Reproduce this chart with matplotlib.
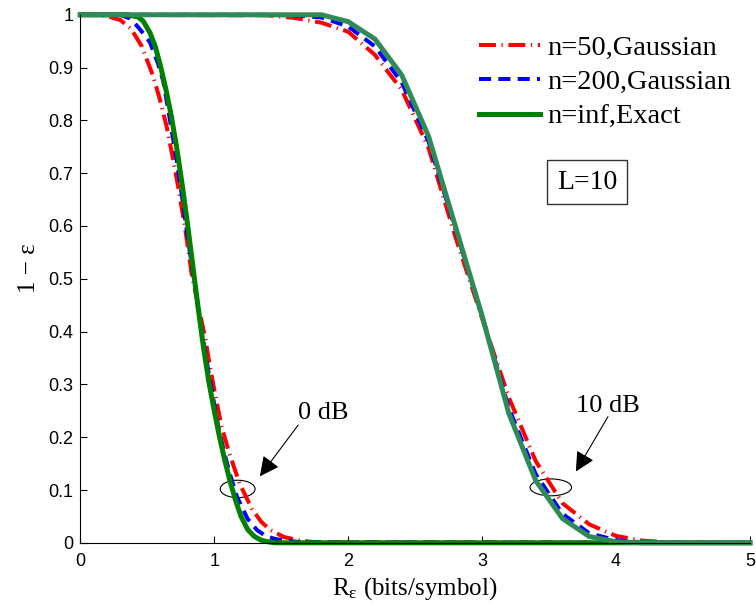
import matplotlib
matplotlib.use("Agg")
import matplotlib.pyplot as plt
from matplotlib.patches import Ellipse

plt.rcParams['mathtext.fontset'] = 'custom'
plt.rcParams['mathtext.rm'] = 'Liberation Serif'
plt.rcParams['mathtext.it'] = 'Liberation Serif:italic'

# ---- 0 dB curves ----
x0_n50 = [0, 0.15, 0.22, 0.3, 0.38, 0.46, 0.545, 0.595, 0.645, 0.694, 0.731, 0.781, 0.831, 0.88,
          0.931, 0.968, 1.01, 1.055, 1.112, 1.19, 1.28, 1.35, 1.42, 1.52, 1.63, 1.75, 5]
y0_n50 = [1, 1, 0.996, 0.99, 0.973, 0.94, 0.883, 0.839, 0.788, 0.725, 0.674, 0.599, 0.51, 0.45,
          0.39, 0.334, 0.277, 0.22, 0.17, 0.112, 0.065, 0.04, 0.024, 0.011, 0.005, 0.001, 0]

x0_n200 = [0, 0.3, 0.37, 0.42, 0.47, 0.52, 0.58, 0.62, 0.66, 0.72, 0.76, 0.81, 0.86, 0.91, 0.96,
           1.03, 1.07, 1.12, 1.17, 1.25, 1.32, 1.39, 1.46, 1.54, 1.65, 5]
y0_n200 = [1, 1, 0.993, 0.98, 0.965, 0.948, 0.908, 0.874, 0.815, 0.725, 0.655, 0.565, 0.48, 0.395,
           0.32, 0.22, 0.175, 0.128, 0.087, 0.045, 0.024, 0.012, 0.007, 0.004, 0.001, 0]

x0_exact = [0, 0.35, 0.43, 0.47, 0.52, 0.56, 0.60, 0.64, 0.68, 0.72, 0.76, 0.80, 0.84, 0.88, 0.92,
            0.96, 1.00, 1.04, 1.08, 1.12, 1.16, 1.20, 1.25, 1.30, 1.35, 1.40, 1.45, 5]
y0_exact = [1, 1, 0.996, 0.988, 0.966, 0.94, 0.902, 0.858, 0.808, 0.748, 0.68, 0.605, 0.525, 0.445,
            0.37, 0.305, 0.25, 0.2, 0.155, 0.115, 0.08, 0.05, 0.025, 0.012, 0.005, 0.002, 0, 0]

# ---- 10 dB curves ----
x10 = [0, 1.4, 1.6, 1.8, 2.0, 2.2, 2.4, 2.6, 2.8, 3.0, 3.2, 3.4, 3.6, 3.8, 4.0, 4.2, 4.4, 5]
y10_n50 = [1, 0.999, 0.994, 0.985, 0.968, 0.924, 0.858, 0.748, 0.58, 0.425, 0.275, 0.155, 0.075,
           0.035, 0.013, 0.004, 0.001, 0]
y10_n200 = [1, 1, 0.999, 0.995, 0.978, 0.94, 0.872, 0.76, 0.595, 0.43, 0.255, 0.13, 0.055,
            0.018, 0.005, 0.001, 0, 0]
y10_exact = [1, 1, 1, 1, 0.987, 0.954, 0.886, 0.77, 0.60, 0.43, 0.245, 0.118, 0.046,
             0.012, 0.002, 0, 0, 0]

labels = ['n=50,Gaussian', 'n=200,Gaussian', 'n=inf,Exact']

fig = plt.figure(figsize=(7.56, 6.11), dpi=100)
ax = fig.add_axes([0.1062, 0.1116, 0.8858, 0.8642])

red_style = dict(color='#FF0000', lw=2.9, ls=(0, (4.2, 1.4, 0.3, 1.4)), clip_on=False)
blue_style = dict(color='#0000FF', lw=2.9, ls=(0, (3.0, 1.8)), clip_on=False)

h1, = ax.plot(x0_n50, y0_n50, label=labels[0], **red_style)
ax.plot(x10, y10_n50, **red_style)
h2, = ax.plot(x0_n200, y0_n200, label=labels[1], **blue_style)
ax.plot(x10, y10_n200, **blue_style)
h3, = ax.plot(x0_exact, y0_exact, color='#008000', lw=3.6, label=labels[2], clip_on=False)
ax.plot(x10, y10_exact, color='#2E8B57', lw=3.6, clip_on=False)

ax.set_xlim(0, 5)
ax.set_ylim(0, 1)
ax.set_xticks([0, 1, 2, 3, 4, 5])
ax.set_yticks([i / 10 for i in range(11)])
ax.set_yticklabels(['0', '0.1', '0.2', '0.3', '0.4', '0.5', '0.6', '0.7', '0.8', '0.9', '1'])
for s in ['top', 'right']:
    ax.spines[s].set_visible(False)
for s in ['left', 'bottom']:
    ax.spines[s].set_linewidth(0.8)
ax.tick_params(direction='in', length=5, width=0.8)
ax.tick_params(axis='x', pad=7)
ax.tick_params(axis='y', pad=5)
for t in ax.get_xticklabels() + ax.get_yticklabels():
    t.set_fontfamily('Liberation Sans')
    t.set_fontsize(13)

ax.set_xlabel(r'R$_{\mathrm{\varepsilon}}$ (bits/symbol)', fontfamily='Liberation Serif', fontsize=18)
ax.set_ylabel('1 − ε', fontfamily='Liberation Serif', fontsize=18)
ax.xaxis.set_label_coords(0.5, -0.062)
ax.yaxis.set_label_coords(-0.06, 0.52)

ax.legend(handles=[h1, h2, h3], loc='upper left', bbox_to_anchor=(0.595, 0.962),
          frameon=False, prop={'family': 'Liberation Serif', 'size': 20.5},
          handlelength=2.15, handletextpad=0.25, labelspacing=0.3,
          borderaxespad=0, borderpad=0)

ax.text(3.785, 0.683, 'L=10', fontfamily='Liberation Serif', fontsize=20,
        ha='center', va='center',
        bbox=dict(boxstyle='square,pad=0.35', fc='white', ec='#333333', lw=1))

ax.add_patch(Ellipse((1.175, 0.102), 0.26, 0.033, fill=False, ec='black', lw=0.8))
ax.add_patch(Ellipse((3.513, 0.105), 0.31, 0.032, fill=False, ec='black', lw=0.8))

arrow = dict(arrowstyle='-|>,head_length=0.6,head_width=0.3', color='black', lw=0.8,
             mutation_scale=20, shrinkA=0, shrinkB=0)
ax.annotate('', xy=(1.341, 0.126), xytext=(1.627, 0.223), arrowprops=arrow)
ax.annotate('', xy=(3.70, 0.135), xytext=(3.94, 0.239), arrowprops=arrow)
ax.text(1.627, 0.234, '0 dB', fontfamily='Liberation Serif', fontsize=19, va='baseline')
ax.text(3.704, 0.248, '10 dB', fontfamily='Liberation Serif', fontsize=19, va='baseline')

fig.savefig('out.png', dpi=100)
